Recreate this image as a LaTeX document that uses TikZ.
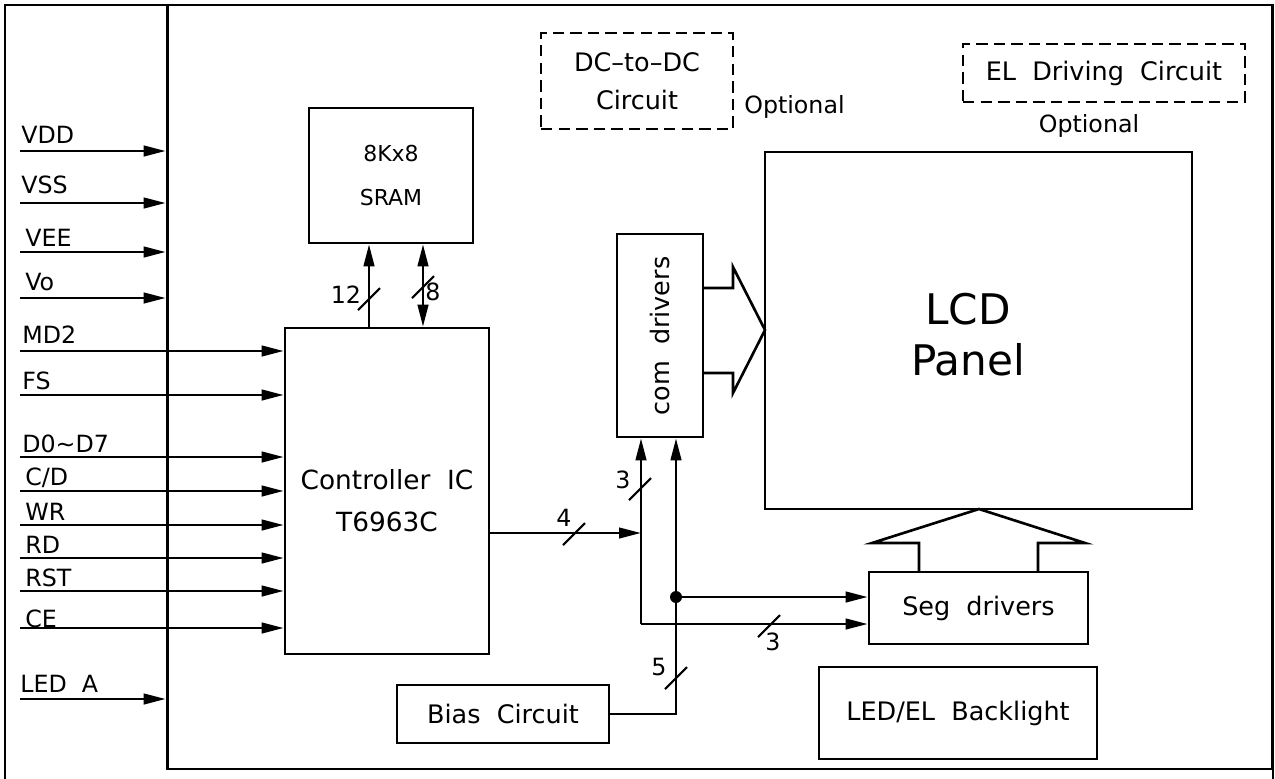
\documentclass[tikz,border=0pt]{standalone}
\usepackage{fontspec}
\setmainfont{DejaVu Sans}
\usetikzlibrary{arrows.meta,positioning}

\tikzset{
  blk/.style={draw, line width=1.5pt, inner sep=0pt},
  optblk/.style={draw, line width=1.3pt, dash pattern=on 6.5pt off 3.5pt, inner sep=0pt},
  sig/.style={line width=1.5pt, -{Triangle[length=4.4mm,width=2.1mm]}},
  bidir/.style={line width=1.5pt, {Triangle[length=4.4mm,width=2.1mm]}-{Triangle[length=4.4mm,width=2.1mm]}},
  pinlbl/.style={anchor=base west, inner sep=0pt, font=\fontsize{13.5}{15}\selectfont},
  buslbl/.style={inner sep=0pt, font=\fontsize{13.5}{15}\selectfont},
  blktxt/.style={align=center, inner sep=0pt, font=\fontsize{14.5}{22}\selectfont},
  bustick/.style={line width=1.2pt},
}

\begin{document}
\begin{tikzpicture}[x=0.02cm, y=-0.02cm]
  \clip (0,0) rectangle (1275,778);

  % outer border and module outline
  \draw[line width=1.6pt] (5,790) -- (5,5) -- (1273,5) -- (1273,790);
  \node[blk, line width=1.6pt, minimum width=22.12cm, minimum height=15.28cm] (module) at (720,387) {};

  % blocks
  \node[blk, blktxt, minimum width=3.28cm, minimum height=2.70cm, font=\fontsize{12.5}{24.5}\selectfont] (sram) at (391,175.5) {8Kx8\\SRAM};
  \node[blk, minimum width=4.08cm, minimum height=6.52cm] (ctrl) at (387,491) {};
  \node[blktxt, font=\fontsize{15}{24}\selectfont] (ctrl-t) at (387,501) {Controller~~IC\\T6963C};
  \node[optblk, blktxt, minimum width=3.84cm, minimum height=1.92cm, font=\fontsize{14.5}{21.6}\selectfont] (dcdc) at (637,81) {DC--to--DC\\Circuit};
  \node[buslbl, anchor=west] (dcdc-opt) at (744,107) {Optional};
  \node[optblk, blktxt, minimum width=5.64cm, minimum height=1.16cm] (eldrv) at (1104,73) {EL~~Driving~~Circuit};
  \node[buslbl, below=0.22cm of eldrv, xshift=-0.3cm] (eldrv-opt) {Optional};
  \node[blk, minimum width=8.54cm, minimum height=7.14cm] (lcd) at (978.5,330.5) {};
  \node[blktxt, font=\fontsize{24}{29}\selectfont] (lcd-t) at (968,335) {LCD\\Panel};
  \node[blk, minimum width=1.72cm, minimum height=4.06cm] (com) at (660,335.5) {};
  \node[blktxt, rotate=90] (com-t) at (660,336) {com~~drivers};
  \node[blk, blktxt, minimum width=4.38cm, minimum height=1.44cm] (seg) at (978.5,608) {Seg~~drivers};
  \node[blk, blktxt, minimum width=5.56cm, minimum height=1.84cm] (led) at (958,713) {LED/EL~~Backlight};
  \node[blk, blktxt, minimum width=4.24cm, minimum height=1.16cm] (bias) at (503,714) {Bias~~Circuit};

  % interface pins
  \coordinate (vdd) at (20,151);  \node[pinlbl] (vdd-t) at (21,143) {VDD};
  \coordinate (vss) at (20,203);  \node[pinlbl] (vss-t) at (21,193) {VSS};
  \coordinate (vee) at (20,252);  \node[pinlbl] (vee-t) at (25,246) {VEE};
  \coordinate (vo) at (20,298);   \node[pinlbl] (vo-t) at (25,290) {Vo};
  \coordinate (md2) at (20,351);  \node[pinlbl] (md2-t) at (22,343) {MD2};
  \coordinate (fs) at (20,395);   \node[pinlbl] (fs-t) at (22,389) {FS};
  \coordinate (data) at (20,457); \node[pinlbl] (data-t) at (22,452) {D0\textasciitilde D7};
  \coordinate (cd) at (20,491);   \node[pinlbl] (cd-t) at (25,485) {C/D};
  \coordinate (wr) at (20,525);   \node[pinlbl] (wr-t) at (25,520) {WR};
  \coordinate (rd) at (20,558);   \node[pinlbl] (rd-t) at (25,553) {RD};
  \coordinate (rst) at (20,591);  \node[pinlbl] (rst-t) at (25,586) {RST};
  \coordinate (ce) at (20,628);   \node[pinlbl] (ce-t) at (25,627) {CE};
  \coordinate (leda) at (20,699); \node[pinlbl] (leda-t) at (20,692) {LED~~A};

  \draw[sig] (vdd) -- (module.west |- vdd);
  \draw[sig] (vss) -- (module.west |- vss);
  \draw[sig] (vee) -- (module.west |- vee);
  \draw[sig] (vo) -- (module.west |- vo);
  \draw[sig] (md2) -- (ctrl.west |- md2);
  \draw[sig] (fs) -- (ctrl.west |- fs);
  \draw[sig] (data) -- (ctrl.west |- data);
  \draw[sig] (cd) -- (ctrl.west |- cd);
  \draw[sig] (wr) -- (ctrl.west |- wr);
  \draw[sig] (rd) -- (ctrl.west |- rd);
  \draw[sig] (rst) -- (ctrl.west |- rst);
  \draw[sig] (ce) -- (ctrl.west |- ce);
  \draw[sig] (leda) -- (module.west |- leda);

  % controller <-> sram
  \coordinate (adr) at (369,299);
  \coordinate (dat) at (423,287);
  \draw[sig] (ctrl.north -| adr) -- (sram.south -| adr);
  \draw[bidir] (ctrl.north -| dat) -- (sram.south -| dat);
  \draw[bustick] (adr) ++(-11,11) -- ++(22,-22);
  \draw[bustick] (dat) ++(-11,11) -- ++(22,-22);
  \node[buslbl] (n12) at (346,295) {12};
  \node[buslbl] (n8) at (433,292) {8};

  % controller -> drivers
  \coordinate (jA) at (641,533);
  \coordinate (jB) at (641,624);
  \coordinate (dot) at (676,597);
  \draw[sig] (ctrl.east |- jA) -- (jA);
  \draw[sig] (jB) -- (com.south -| jB);
  \draw[sig] (jB) -- (seg.west |- jB);
  \draw[sig] (bias.east) -| (com.south -| dot);
  \draw[sig] (dot) -- (seg.west |- dot);
  \fill (dot) circle (1.2mm);
  \draw[bustick] (574,534) ++(-11,11) -- ++(22,-22);
  \draw[bustick] (640,489) ++(-11,11) -- ++(22,-22);
  \draw[bustick] (769,626) ++(-11,11) -- ++(22,-22);
  \draw[bustick] (676,678) ++(-11,11) -- ++(22,-22);
  \node[buslbl] (n4) at (564,518) {4};
  \node[buslbl] (n3a) at (623,480) {3};
  \node[buslbl] (n3b) at (773,642) {3};
  \node[buslbl] (n5) at (659,667) {5};

  % wide arrows into the panel
  \draw[line width=1.5pt] (703,288) -- (733,288) -- (733,267) -- (765,330) -- (733,393) -- (733,373) -- (703,373);
  \draw[line width=1.5pt] (919,572) -- (919,543) -- (872,543) -- (979,509) -- (1085,543) -- (1038,543) -- (1038,572);
\end{tikzpicture}
\end{document}
